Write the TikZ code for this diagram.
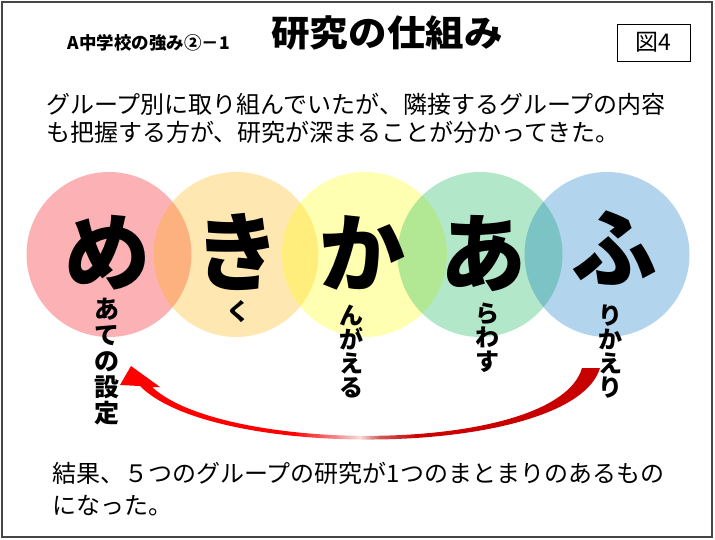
\documentclass[tikz,border=0pt]{standalone}
\usepackage{fontspec}
\setmainfont{Noto Sans CJK JP}
\definecolor{cRed}{RGB}{245,0,8}
\definecolor{cOrange}{RGB}{255,176,0}
\definecolor{cYellow}{RGB}{255,255,0}
\definecolor{cGreen}{RGB}{0,176,80}
\definecolor{cBlue}{RGB}{0,112,192}
\definecolor{frameGray}{RGB}{70,70,70}
\pgfdeclarehorizontalshading{redarc}{100bp}{rgb(0bp)=(1,0,0); rgb(25bp)=(1,0,0); rgb(43bp)=(1,0,0); rgb(48bp)=(0.95,0.6,0.6); rgb(50bp)=(0.97,0.86,0.86); rgb(52bp)=(0.82,0.35,0.35); rgb(56bp)=(0.8,0,0); rgb(75bp)=(0.78,0,0); rgb(100bp)=(0.78,0,0)}
\begin{document}
\begin{tikzpicture}[x=1pt,y=-1pt,
  bubble/.style={circle, inner sep=0pt, minimum size=165pt, fill opacity=0.3, text opacity=1},
  bigkana/.style={font=\bfseries\fontsize{86}{86}\selectfont, inner sep=0pt},
  subkana/.style={font=\bfseries\fontsize{24}{24}\selectfont, align=center, inner sep=0pt},
  bodytext/.style={font=\fontsize{24}{28}\selectfont, align=left, inner sep=0pt, anchor=west}
]
\useasboundingbox (0,0) rectangle (715,539);
\draw[line width=1.8pt, draw=frameGray] (2,2) rectangle (712,537);

% header
\node[font=\bfseries\fontsize{17.5}{17.5}\selectfont, inner sep=0pt] (hdr) at (149,43) {A中学校の強み②－1};
\node[font=\bfseries\fontsize{36}{36}\selectfont, inner sep=0pt, xscale=1.07] (title) at (387,33) {研究の仕組み};
\node[draw, line width=0.8pt, minimum width=73pt, minimum height=37pt, inner sep=0pt, font=\fontsize{23}{23}\selectfont] (fig) at (653.5,42.5) {図4};

% intro text
\node[bodytext] (intro) at (46,118) {グループ別に取り組んでいたが、隣接するグループの内容\\も把握する方が、研究が深まることが分かってきた。};

% circles
\node[bubble, fill=cRed] (c1) at (109,254.5) {};
\node[bubble, fill=cOrange] (c2) at (236,254.5) {};
\node[bubble, fill=cYellow] (c3) at (364.5,254.5) {};
\node[bubble, fill=cGreen] (c4) at (480,254.5) {};
\node[bubble, fill=cBlue] (c5) at (607,254.5) {};

% big kana
\node[bigkana] (k1) at (107,253) {め};
\node[bigkana] (k2) at (237,252) {き};
\node[bigkana] (k3) at (362,253) {か};
\node[bigkana] (k4) at (483,254) {あ};
\node[bigkana] (k5) at (614,248) {ふ};

% sub texts (vertical)
\node[subkana, font=\bfseries\fontsize{25}{26}\selectfont] (s1) at (107,362) {あ\\て\\の\\設\\定};
\node[subkana] (s2) at (238,312) {く};
\node[subkana] (s3) at (351,352) {ん\\が\\え\\る};
\node[subkana] (s4) at (487,338) {ら\\わ\\す};
\node[subkana] (s5) at (610,352) {り\\か\\え\\り};

% red curved arrow
\coordinate (aS1) at (582,368);
\coordinate (aS2) at (600,368);
\coordinate (aT) at (131,366);
\coordinate (aL) at (120,385);
\coordinate (aR) at (160,387);
\coordinate (aB1) at (140,386);
\coordinate (aB2) at (152,387);
\shade[shading=redarc] (aS1) -- (aS2) .. controls (573,458) and (215,462) .. (aB1) -- (aL) -- (aT) -- (aR) -- (aB2) .. controls (225,455) and (557,455) .. (aS1) -- cycle;

% result text
\node[bodytext, font=\fontsize{24}{32}\selectfont] (result) at (52,489) {結果、５つのグループの研究が1つのまとまりのあるもの\\になった。};
\end{tikzpicture}
\end{document}
